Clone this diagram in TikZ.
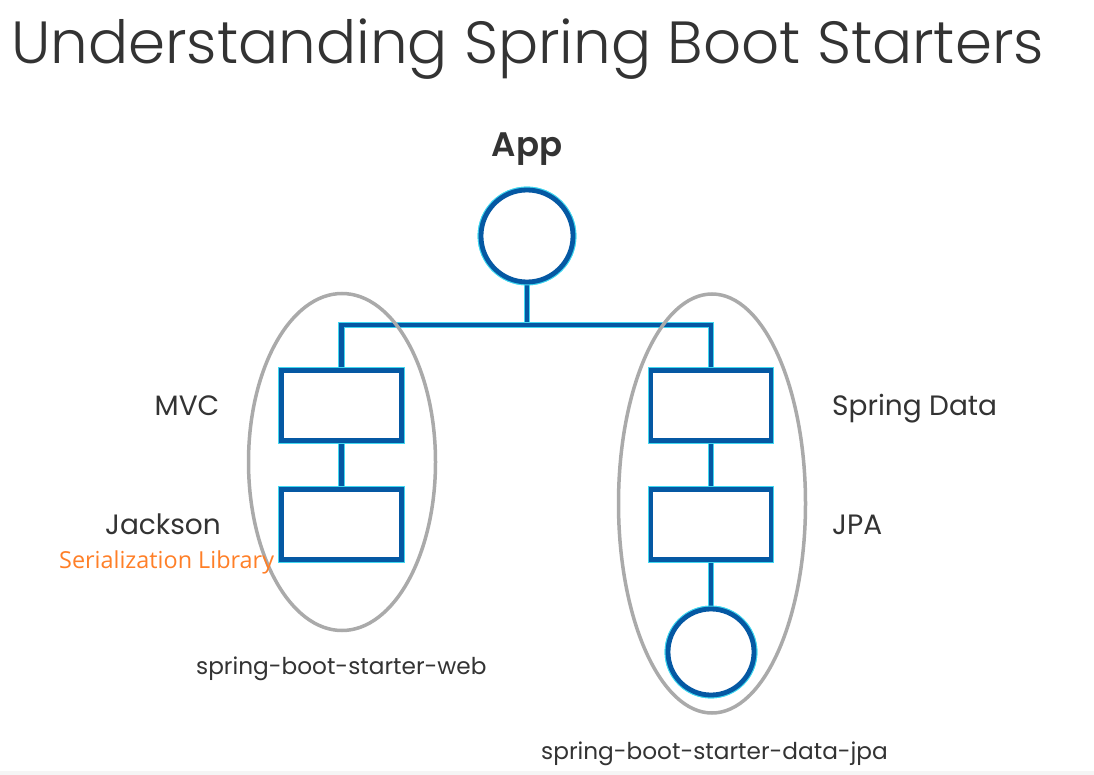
\documentclass[tikz,border=0pt]{standalone}
\usepackage{fontspec}
\usetikzlibrary{shapes.geometric}
\newfontfamily\titlefont{Poppins Light}
\newfontfamily\labelfont{Poppins}
\newfontfamily\appfont{Poppins SemiBold}
\newfontfamily\notefont{Open Sans}
\definecolor{dblue}{HTML}{0558A3}
\definecolor{glow}{HTML}{40D8F0}
\definecolor{txt}{HTML}{333333}
\definecolor{ogray}{HTML}{AAAAAA}
\definecolor{orng}{HTML}{FF7F27}
\tikzset{
  wire/.style={draw=dblue, line width=4.8pt, preaction={draw=glow, line width=6.8pt}},
  compbox/.style={rectangle, wire, fill=white, minimum width=120pt, minimum height=70pt, inner sep=0pt},
  compcirc/.style={circle, wire, fill=white, inner sep=0pt},
  group/.style={ellipse, draw=ogray, line width=3.5pt, inner sep=0pt},
  lbl/.style={font=\labelfont\fontsize{28}{32}\selectfont, text=txt, inner sep=0pt},
  pkg/.style={font=\labelfont\fontsize{23.2}{26}\selectfont, text=txt, inner sep=0pt, anchor=base west},
}
\begin{document}
\begin{tikzpicture}[x=1pt,y=-1pt]
\useasboundingbox[fill=white] (0,0) rectangle (1094,775);
\fill[black!4] (0,771) rectangle (1094,775);
\node[anchor=base west, inner sep=0pt, text=txt, font=\titlefont\fontsize{59.5}{64}\selectfont] (title) at (11,64) {Understanding Spring Boot Starters};
\node[anchor=base, inner sep=0pt, text=txt, font=\appfont\fontsize{34}{38}\selectfont] (applbl) at (527,157) {App};
% components
\coordinate (bus) at (527,325);
\node[compcirc, minimum size=92pt] (app) at (527,236) {};
\node[compbox] (mvc) at (341.5,405.5) {};
\node[compbox] (jackson) at (341.5,524.5) {};
\node[compbox] (sdata) at (711,405.5) {};
\node[compbox] (jpa) at (711,524.5) {};
\node[compcirc, minimum size=86pt] (db) at (711,652) {};
% connectors
\draw[wire] (app.south) -- (bus);
\draw[wire] (mvc.north) |- (bus) -| (sdata.north);
\draw[wire] (mvc.south) -- (jackson.north);
\draw[wire] (sdata.south) -- (jpa.north);
\draw[wire] (jpa.south) -- (db.north);
% redraw shapes on top of connectors
\node[compcirc, minimum size=92pt] at (app) {};
\node[compbox] at (mvc) {};
\node[compbox] at (jackson) {};
\node[compbox] at (sdata) {};
\node[compbox] at (jpa) {};
\node[compcirc, minimum size=86pt] at (db) {};
% groups
\node[group, minimum width=187pt, minimum height=337pt] (web) at (342,462) {};
\node[group, minimum width=187pt, minimum height=419pt] (data) at (712,503.5) {};
% labels
\node[lbl, anchor=base] at (187,415) {MVC};
\node[lbl, anchor=base] at (163,534) {Jackson};
\node[lbl, anchor=base west] at (832,415) {Spring Data};
\node[lbl, anchor=base west] at (832,534) {JPA};
\node[anchor=base west, inner sep=0pt, text=orng, font=\notefont\fontsize{23.4}{26}\selectfont] at (59,568) {Serialization Library};
\node[pkg] at (196,674) {spring-boot-starter-web};
\node[pkg] at (541,759) {spring-boot-starter-data-jpa};
\end{tikzpicture}
\end{document}
